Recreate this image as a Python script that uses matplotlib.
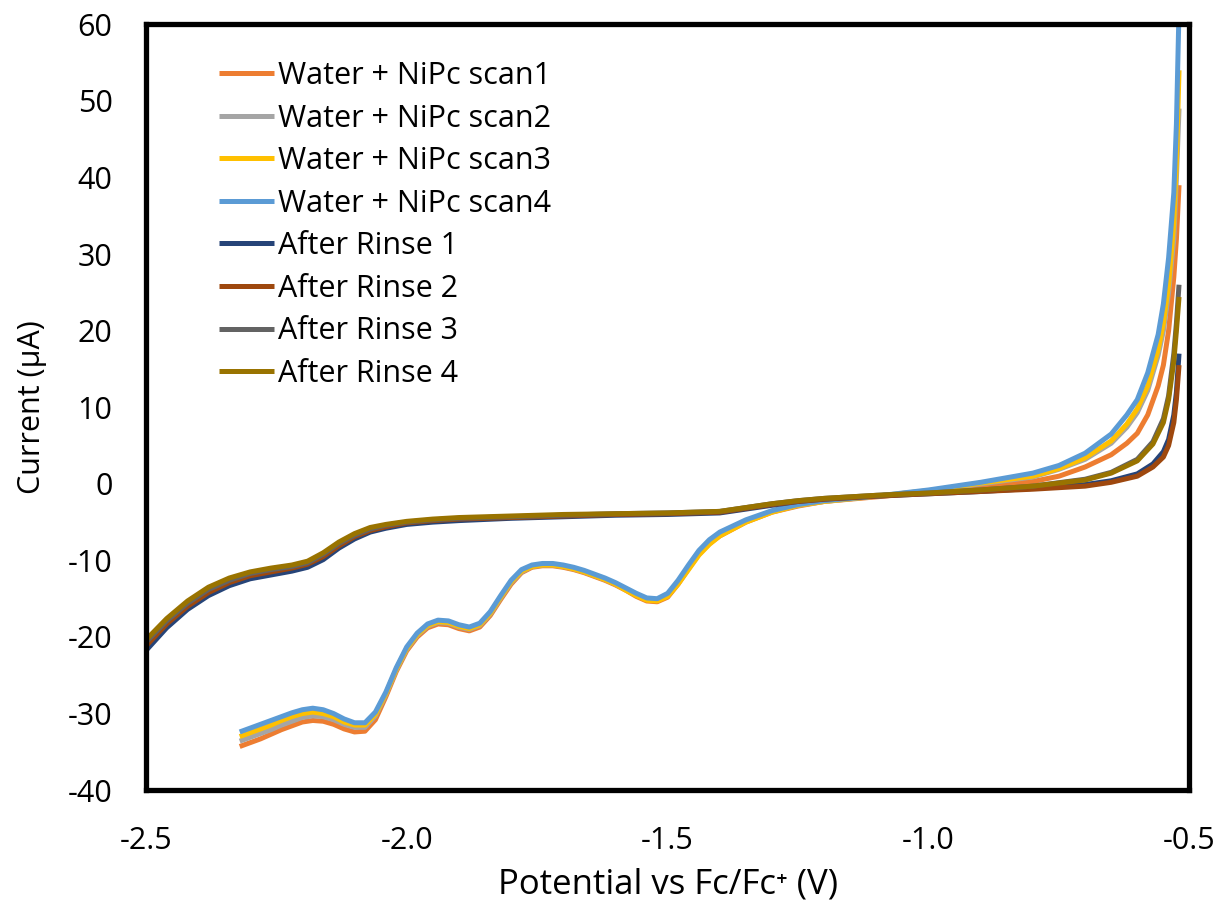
import matplotlib
matplotlib.use('Agg')
import matplotlib.pyplot as plt

plt.rcParams['font.family'] = ['Open Sans', 'DejaVu Sans']
plt.rcParams['axes.unicode_minus'] = False

# 数据
x_water = [-2.32, -2.30, -2.28, -2.26, -2.24, -2.22, -2.20, -2.18, -2.16, -2.14,
           -2.12, -2.10, -2.08, -2.06, -2.04, -2.02, -2.00, -1.98, -1.96, -1.94,
           -1.92, -1.90, -1.88, -1.86, -1.84, -1.82, -1.80, -1.78, -1.76, -1.74,
           -1.72, -1.70, -1.68, -1.66, -1.64, -1.62, -1.60, -1.58, -1.56, -1.54,
           -1.52, -1.50, -1.48, -1.46, -1.44, -1.42, -1.40,
           -1.35, -1.30, -1.25, -1.20, -1.10, -1.00, -0.90, -0.80, -0.75, -0.70,
           -0.65, -0.62, -0.60, -0.58, -0.56, -0.55, -0.54, -0.53, -0.525, -0.52]

scan1 = [-34.3, -33.8, -33.3, -32.7, -32.1, -31.6, -31.1, -30.9, -31.0, -31.4,
         -32.0, -32.4, -32.3, -30.8, -27.8, -24.5, -21.8, -20.0, -18.8, -18.3,
         -18.4, -18.9, -19.2, -18.7, -17.2, -15.1, -13.1, -11.6, -10.9, -10.7,
         -10.7, -10.9, -11.2, -11.6, -12.1, -12.6, -13.2, -13.9, -14.7, -15.3,
         -15.4, -14.8, -13.1, -11.1, -9.2, -7.8, -6.8,
         -5.0, -3.7, -2.9, -2.3, -1.7, -1.1, -0.4, 0.3, 1.0, 2.2,
         3.8, 5.3, 6.6, 9.0, 12.8, 15.5, 20.0, 27.0, 32.0, 39.0]
scan2 = [-33.6, -33.1, -32.6, -32.1, -31.5, -31.0, -30.5, -30.3, -30.4, -30.8,
         -31.4, -31.8, -31.8, -30.3, -27.5, -24.3, -21.6, -19.8, -18.6, -18.1,
         -18.2, -18.7, -19.0, -18.5, -17.0, -14.9, -12.9, -11.5, -10.8, -10.6,
         -10.6, -10.8, -11.1, -11.5, -12.0, -12.5, -13.1, -13.8, -14.5, -15.1,
         -15.2, -14.5, -12.9, -10.9, -9.0, -7.6, -6.6,
         -4.9, -3.6, -2.8, -2.3, -1.6, -0.9, 0.0, 0.9, 1.9, 3.2,
         5.3, 7.4, 9.3, 12.2, 16.8, 20.0, 25.0, 32.0, 40.0, 49.0]
scan3 = [-33.0, -32.5, -32.0, -31.5, -30.9, -30.4, -30.0, -29.8, -30.0, -30.4,
         -31.1, -31.5, -31.5, -30.1, -27.4, -24.2, -21.5, -19.7, -18.5, -18.0,
         -18.1, -18.6, -18.9, -18.4, -16.9, -14.8, -12.8, -11.4, -10.8, -10.6,
         -10.6, -10.8, -11.1, -11.5, -12.0, -12.5, -13.1, -13.9, -14.6, -15.2,
         -15.3, -14.7, -13.1, -11.2, -9.3, -7.9, -6.8,
         -5.0, -3.7, -2.8, -2.3, -1.6, -0.9, 0.1, 1.0, 2.0, 3.4,
         5.6, 7.8, 9.8, 12.8, 17.5, 21.0, 26.0, 34.0, 42.0, 54.0]
scan4 = [-32.4, -31.9, -31.4, -30.9, -30.4, -29.9, -29.5, -29.3, -29.5, -30.0,
         -30.7, -31.2, -31.2, -29.8, -27.2, -24.0, -21.3, -19.5, -18.3, -17.8,
         -17.9, -18.4, -18.7, -18.2, -16.7, -14.6, -12.6, -11.2, -10.6, -10.4,
         -10.4, -10.6, -10.9, -11.3, -11.8, -12.3, -12.9, -13.6, -14.3, -14.9,
         -15.0, -14.3, -12.6, -10.6, -8.7, -7.3, -6.3,
         -4.7, -3.5, -2.7, -2.2, -1.6, -0.8, 0.2, 1.4, 2.4, 4.0,
         6.5, 9.0, 11.0, 14.5, 19.5, 23.5, 29.5, 38.0, 47.0, 62.0]

x_rinse = [-2.50, -2.46, -2.42, -2.38, -2.34, -2.30, -2.26, -2.22, -2.19, -2.16,
           -2.13, -2.10, -2.07, -2.04, -2.00, -1.95, -1.90, -1.80, -1.70, -1.60,
           -1.50, -1.40, -1.35, -1.30, -1.25, -1.20, -1.10, -1.00, -0.90, -0.80,
           -0.70, -0.65, -0.60, -0.57, -0.55, -0.54, -0.53, -0.525, -0.52]

rinse1 = [-21.8, -18.8, -16.4, -14.6, -13.3, -12.4, -11.9, -11.4, -10.9, -9.9,
          -8.4, -7.2, -6.3, -5.8, -5.3, -5.0, -4.8, -4.5, -4.3, -4.1,
          -4.0, -3.8, -3.3, -2.8, -2.3, -2.0, -1.6, -1.3, -1.0, -0.6,
          -0.1, 0.4, 1.3, 2.6, 4.2, 5.8, 9.0, 12.0, 17.0]
rinse2 = [-21.2, -18.3, -16.0, -14.2, -12.9, -12.0, -11.5, -11.0, -10.5, -9.5,
          -8.1, -6.9, -6.1, -5.6, -5.1, -4.8, -4.6, -4.4, -4.2, -4.0,
          -3.9, -3.7, -3.2, -2.7, -2.3, -2.0, -1.6, -1.3, -1.0, -0.7,
          -0.3, 0.2, 1.0, 2.2, 3.5, 5.0, 8.0, 11.0, 15.5]
rinse3 = [-20.7, -17.9, -15.6, -13.8, -12.6, -11.7, -11.2, -10.8, -10.3, -9.2,
          -7.8, -6.7, -5.9, -5.4, -5.0, -4.7, -4.5, -4.3, -4.1, -3.9,
          -3.8, -3.6, -3.1, -2.6, -2.2, -1.9, -1.5, -1.2, -0.8, -0.3,
          0.6, 1.5, 3.2, 5.5, 8.5, 11.5, 17.0, 21.0, 26.0]
rinse4 = [-20.4, -17.6, -15.3, -13.5, -12.3, -11.5, -11.0, -10.6, -10.1, -9.0,
          -7.6, -6.5, -5.7, -5.3, -4.9, -4.6, -4.4, -4.2, -4.0, -3.9,
          -3.8, -3.6, -3.1, -2.6, -2.2, -1.9, -1.5, -1.2, -0.8, -0.3,
          0.5, 1.4, 3.0, 5.2, 8.0, 11.0, 16.0, 20.0, 24.4]

labels = ['Water + NiPc scan1', 'Water + NiPc scan2', 'Water + NiPc scan3',
          'Water + NiPc scan4', 'After Rinse 1', 'After Rinse 2',
          'After Rinse 3', 'After Rinse 4']
colors = ['#ED7D31', '#A5A5A5', '#FFC000', '#5B9BD5',
          '#264478', '#9E480E', '#636363', '#997300']

x_ticks = [-2.5, -2.0, -1.5, -1.0, -0.5]
y_ticks = [-40, -30, -20, -10, 0, 10, 20, 30, 40, 50, 60]

fig = plt.figure(figsize=(12.25, 9.02), dpi=100)
ax = fig.add_axes([0.119, 0.124, 0.852, 0.849])

series = [(x_water, scan1), (x_water, scan2), (x_water, scan3), (x_water, scan4),
          (x_rinse, rinse1), (x_rinse, rinse2), (x_rinse, rinse3), (x_rinse, rinse4)]
for (xs, ys), lab, c in zip(series, labels, colors):
    ax.plot(xs, ys, color=c, lw=3.6, label=lab, solid_capstyle='butt',
            solid_joinstyle='round')

ax.set_xlim(-2.5, -0.5)
ax.set_ylim(-40, 60)
ax.set_xticks(x_ticks)
ax.set_xticklabels(['%.1f' % v for v in x_ticks])
ax.set_yticks(y_ticks)
ax.tick_params(axis='y', length=0, labelsize=22, pad=24)
ax.tick_params(axis='x', length=0, labelsize=22, pad=26)
for s in ax.spines.values():
    s.set_linewidth(3.8)
    s.set_color('black')

ax.set_xlabel('Potential vs Fc/Fc⁺ (V)', fontsize=25, labelpad=8)
ax.set_ylabel('Current (μA)', fontsize=22, labelpad=15)

ax.legend(loc='upper left', bbox_to_anchor=(0.058, 0.968), frameon=False,
          fontsize=22, handlelength=1.8, handletextpad=0.15, labelspacing=0.41,
          borderaxespad=0)

fig.savefig('out.png', dpi=100)
